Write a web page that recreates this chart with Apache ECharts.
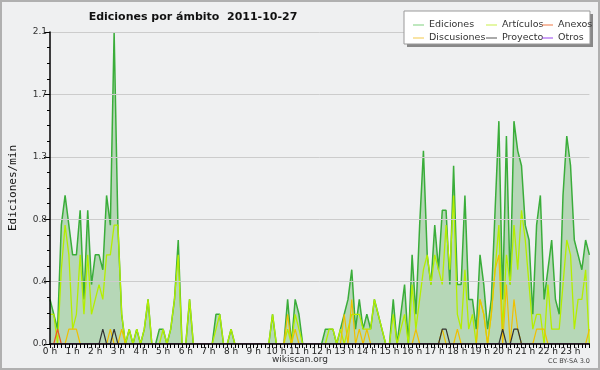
<!DOCTYPE html>
<html><head><meta charset="utf-8">
<script src="https://cdn.jsdelivr.net/npm/echarts@6/dist/echarts.min.js"></script>
<style>html,body{margin:0;padding:0;background:#eff0f1}#c{width:600px;height:370px}</style>
</head><body><div id="c"></div>
<script>
// hour labels (one category every 10 minutes, 6 per hour)
const hourLabels = ['0 h','1 h','2 h','3 h','4 h','5 h','6 h','7 h','8 h','9 h','10 h','11 h',
  '12 h','13 h','14 h','15 h','16 h','17 h','18 h','19 h','20 h','21 h','22 h','23 h'];
const yTicks = ['0.0','0.4','0.8','1.3','1.7','2.1'];

const ediciones = [
  0.3,0.2,0.1,0.8,1.0,0.8,  0.6,0.6,0.9,0.3,0.9,0.4,  0.6,0.6,0.5,1.0,0.8,2.1,  0.8,0.2,0,0.1,0,0.1,
  0,0.1,0.3,0,0,0.1,        0.1,0,0.1,0.3,0.7,0,      0,0.3,0,0,0,0,          0,0,0.2,0.2,0,0,
  0.1,0,0,0,0,0,            0,0,0,0,0,0.2,            0,0,0,0.3,0,0.3,        0.2,0,0,0,0,0,
  0,0.1,0.1,0.1,0,0.1,      0.2,0.3,0.5,0.1,0.3,0.1,  0.2,0.1,0.3,0.2,0.1,0,  0,0.3,0,0.2,0.4,0,
  0.6,0.2,0.8,1.3,0.6,0.4,  0.8,0.5,0.9,0.9,0.4,1.2,  0.4,0.4,1.0,0.3,0.3,0.1, 0.6,0.4,0.1,0.3,0.9,1.5,
  0.3,1.4,0.4,1.5,1.3,1.2,  0.8,0.7,0.2,0.8,1.0,0.3,  0.5,0.7,0.3,0.2,1.0,1.4, 1.2,0.7,0.6,0.5,0.7,0.6
];
const articulos = [
  0.2,0.2,0,0.5,0.8,0.6,    0.1,0.2,0.6,0.2,0.6,0.2,  0.3,0.4,0.3,0.6,0.6,0.8,  0.8,0.2,0,0.1,0,0.1,
  0,0.1,0.3,0,0,0,          0.1,0,0.1,0.3,0.6,0,      0,0.3,0,0,0,0,          0,0,0.1,0.2,0,0,
  0.1,0,0,0,0,0,            0,0,0,0,0,0.2,            0,0,0,0.1,0,0.2,        0.1,0,0,0,0,0,
  0,0,0.1,0.1,0,0.1,        0,0.1,0.2,0.2,0.2,0.1,    0.1,0.1,0.3,0.2,0.1,0,  0,0.2,0,0.1,0.2,0,
  0.4,0.1,0.3,0.5,0.6,0.4,  0.6,0.5,0.4,0.8,0.5,1.0,  0.2,0.1,0.5,0.1,0.2,0,  0.3,0.2,0,0.2,0.5,0.8,
  0.1,0.6,0.4,0.8,0.5,0.9,  0.7,0.4,0.1,0.2,0.2,0,    0.4,0.1,0.1,0.1,0.4,0.7, 0.6,0.1,0.3,0.3,0.5,0
];
const discusiones = [
  0,0,0,0,0,0.1,  0.1,0.1,0,0,0,0,  0,0,0,0,0.1,0,  0,0.1,0,0,0,0,
  0,0,0,0,0,0,    0,0,0,0,0,0,      0,0,0,0,0,0,    0,0,0,0,0,0,
  0,0,0,0,0,0,    0,0,0,0,0,0,      0,0,0,0.2,0,0.1, 0,0,0,0,0,0,
  0,0,0,0,0,0,    0.2,0,0.3,0,0.1,0, 0.1,0,0,0,0,0,  0,0,0,0,0,0,
  0,0.1,0,0,0,0,  0,0,0.1,0,0,0,    0.1,0,0,0,0,0,  0.3,0.2,0,0.2,0.5,0.6,
  0,0.4,0,0.3,0.1,0, 0,0,0,0.1,0.1,0.1, 0,0,0,0,0,0, 0,0,0,0,0,0.1
];
const proyecto = [
  0,0,0,0,0,0,  0,0,0,0,0,0,  0,0,0.1,0,0,0.1, 0,0,0,0,0,0,
  0,0,0,0,0,0,  0,0,0,0,0,0,  0,0,0,0,0,0,     0,0,0,0,0,0,
  0,0,0,0,0,0,  0,0,0,0,0,0,  0,0,0,0,0,0,     0,0,0,0,0,0,
  0,0,0,0,0,0,  0,0,0,0,0,0,  0,0,0,0,0,0,     0,0,0,0,0,0,
  0,0,0,0,0,0,  0,0,0.1,0.1,0,0, 0,0,0,0,0,0,   0,0,0,0,0,0,
  0.1,0,0,0.1,0.1,0, 0,0,0,0,0,0, 0,0,0,0,0,0,  0,0,0,0,0,0
];
const anexos = [
  0,0,0.1,0,0,0,  0,0,0,0,0,0,  0,0,0,0,0,0,  0,0,0,0,0,0,
  0,0,0,0,0,0,  0,0,0,0,0,0,  0,0,0,0,0,0,  0,0,0,0,0,0,
  0,0,0,0,0,0,  0,0,0,0,0,0,  0,0,0,0,0,0,  0,0,0,0,0,0,
  0,0,0,0,0,0,  0,0,0,0,0,0,  0,0,0,0,0,0,  0,0,0,0,0,0,
  0,0,0,0,0,0,  0,0,0,0,0,0,  0,0,0,0,0,0,  0,0,0,0,0,0,
  0,0,0,0,0,0,  0,0,0,0,0,0,  0,0,0,0,0,0,  0,0,0,0,0,0
];
const otros = new Array(144).fill(0);

// categories: one slot per 10 minutes, labelled on the hour
const categories = [];
hourLabels.forEach(h => { for (let k = 0; k < 6; k++) categories.push(k === 0 ? h : h + ' ' + k); });

const chart = echarts.init(document.getElementById('c'), null, {renderer: 'canvas'});
const F = 'DejaVu Sans';
const legendText = {fontFamily: F, fontSize: 9.5, color: '#333'};
function leg(left, top, names) {
  return {left, top, orient: 'vertical', itemGap: 3, itemWidth: 11, itemHeight: 9, z: 60,
    icon: 'path://M0,4L11,4L11,5L0,5Z', textStyle: legendText, selectedMode: false,
    data: names};
}
chart.setOption({
  animation: false,
  backgroundColor: '#eff0f1',
  title: {text: 'Ediciones por ámbito  2011-10-27', left: 188, top: 7, textAlign: 'center',
    textStyle: {fontFamily: F, fontSize: 11, fontWeight: 'bold', color: '#111'}},
  graphic: [
    {type: 'rect', shape: {x: 1, y: 1, width: 598, height: 368}, style: {fill: 'none', stroke: '#b0b0b0', lineWidth: 2}, z: 100},
    {type: 'rect', shape: {x: 407, y: 14, width: 186, height: 33}, style: {fill: '#888'}, z: 50},
    {type: 'rect', shape: {x: 404, y: 11, width: 186, height: 33}, style: {fill: '#fff', stroke: '#999', lineWidth: 1}, z: 51},
    {type: 'text', left: 'center', top: 355, style: {text: 'wikiscan.org', fontFamily: F, fontSize: 9, fill: '#333'}},
    {type: 'text', right: 10, top: 358, style: {text: 'CC BY-SA 3.0', fontFamily: F, fontSize: 6.5, fill: '#444'}}
  ],
  legend: [
    leg(408, 15, [{name: 'Ediciones', itemStyle: {color: '#7fd07f'}}, {name: 'Discusiones', itemStyle: {color: '#f3c94a'}}]),
    leg(481, 15, [{name: 'Artículos', itemStyle: {color: '#c8ef4a'}}, {name: 'Proyecto', itemStyle: {color: '#555'}}]),
    leg(537, 15, [{name: 'Anexos', itemStyle: {color: '#ee7744'}}, {name: 'Otros', itemStyle: {color: '#9944ee'}}])
  ],
  grid: {left: 46, right: 10.6, top: 32, bottom: 26},
  xAxis: {
    type: 'category', data: categories, boundaryGap: false, z: 10,
    axisLine: {lineStyle: {color: '#000', width: 1.5}},
    axisTick: {interval: 0, length: 4, lineStyle: {color: '#000'}},
    axisLabel: {interval: 5, margin: 3, fontFamily: F, fontSize: 9, color: '#222',
      formatter: v => (v.indexOf(' h ') === -1 ? v : '')},
    splitLine: {show: false}
  },
  yAxis: {
    type: 'value', min: 0, max: 2.1, interval: 0.42, z: 10,
    name: 'Ediciones/min', nameLocation: 'middle', nameGap: 31, nameRotate: 90,
    nameTextStyle: {fontFamily: 'DejaVu Sans Mono', fontSize: 11, color: '#111'},
    axisLine: {show: true, lineStyle: {color: '#000', width: 1.5}},
    axisTick: {show: true, length: 6, lineStyle: {color: '#000'}},
    minorTick: {show: true, splitNumber: 4, length: 3, lineStyle: {color: '#000'}},
    axisLabel: {margin: 3, fontFamily: F, fontSize: 9, color: '#333',
      formatter: v => yTicks[Math.round(v / 0.42)]},
    splitLine: {lineStyle: {color: '#cccccc', width: 1}}
  },
  series: [
    {name: 'Ediciones', type: 'line', data: ediciones, symbol: 'none', z: 2,
      lineStyle: {color: '#3aad3a', width: 1.5}, itemStyle: {color: '#3aad3a'},
      areaStyle: {color: 'rgba(60,160,60,0.45)'}},
    {name: 'Artículos', type: 'line', data: articulos, symbol: 'none', z: 3,
      lineStyle: {color: '#b4ee00', width: 1.3}, itemStyle: {color: '#b4ee00'}},
    {name: 'Anexos', type: 'line', data: anexos, symbol: 'none', z: 3,
      lineStyle: {color: '#ee5522', width: 1.2}, itemStyle: {color: '#ee5522'}},
    {name: 'Discusiones', type: 'line', data: discusiones, symbol: 'none', z: 3,
      lineStyle: {color: '#f0c000', width: 1.2}, itemStyle: {color: '#f0c000'}},
    {name: 'Proyecto', type: 'line', data: proyecto, symbol: 'none', z: 3,
      lineStyle: {color: '#333', width: 1.2}, itemStyle: {color: '#333'}},
    {name: 'Otros', type: 'line', data: otros, symbol: 'none', z: 3,
      lineStyle: {color: '#9933ee', width: 1.2}, itemStyle: {color: '#9933ee'}}
  ]
});
</script></body></html>
